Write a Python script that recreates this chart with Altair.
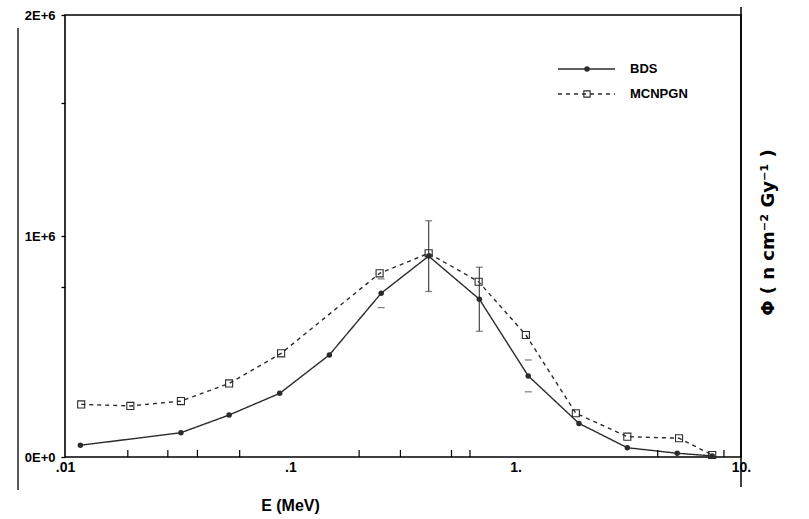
import altair as alt
import pandas as pd

# Neutron fluence spectra: BDS unfolding vs. MCNP-GN calculation
series_names = ["BDS", "MCNPGN"]

bds_energy = [0.0117, 0.0327, 0.0535, 0.0897, 0.149, 0.253, 0.411, 0.690, 1.137, 1.91, 3.13, 5.21, 7.45]
bds_phi = [53000, 110000, 190000, 288000, 462000, 741000, 909000, 714000, 367000, 152000, 42000, 17000, 5000]

mcnp_energy = [0.0118, 0.0195, 0.0327, 0.0535, 0.091, 0.249, 0.411, 0.685, 1.11, 1.85, 3.13, 5.31, 7.45]
mcnp_phi = [238000, 231000, 253000, 333000, 469000, 831000, 922000, 793000, 552000, 198000, 92000, 85000, 9000]

# BDS uncertainties (full bars drawn only where flagged, caps everywhere)
err_energy = [0.253, 0.411, 0.690, 1.137]
err_center = [741000, 909000, 714000, 367000]
err_size = [65000, 160000, 145000, 72000]
err_full_bar = [False, True, True, False]

x_major = [0.01, 0.1, 1, 10]
x_minor = [0.019, 0.0286, 0.0387, 0.0596, 0.202, 0.308, 0.519, 0.627, 4.27, 8.4]
y_ticks = [0, 770000, 1000000, 1600000, 2000000]

W, H = 676, 442
INK = "#2b2b2b"
LABEL_FONT = "Liberation Sans"

points = pd.concat(
    [
        pd.DataFrame({"E": bds_energy, "phi": bds_phi, "series": "BDS"}),
        pd.DataFrame({"E": mcnp_energy, "phi": mcnp_phi, "series": "MCNPGN"}),
    ],
    ignore_index=True,
)

errors = pd.DataFrame({
    "E": err_energy,
    "lo": [c - e for c, e in zip(err_center, err_size)],
    "hi": [c + e for c, e in zip(err_center, err_size)],
    "bar": err_full_bar,
})

minor = pd.DataFrame({"E": x_minor})

xs = alt.Scale(type="log", domain=[0.01, 10])
ys = alt.Scale(domain=[0, 2000000])

x_axis = alt.Axis(
    values=x_major,
    labelExpr="datum.value == 0.01 ? '.01' : datum.value == 0.1 ? '.1' : datum.value == 1 ? '1.' : '10.'",
    ticks=False, grid=False, domain=False,
    labelFont=LABEL_FONT, labelFontSize=14, labelFontWeight="bold", labelColor="black",
    labelPadding=3, labelFlush=False, labelOverlap=False, labelBound=False,
    title="E (MeV)", titleFont=LABEL_FONT, titleFontSize=16, titleFontWeight="bold",
    titleX=225, titleY=48, titleAlign="center", titleBaseline="middle", titleColor="black",
)

y_axis = alt.Axis(
    values=y_ticks,
    labelExpr="datum.value == 0 ? '0E+0' : datum.value == 1000000 ? '1E+6' : datum.value == 2000000 ? '2E+6' : ''",
    ticks=True, tickSize=4, tickColor="black", tickWidth=1.3, grid=False, domain=False,
    labelFont=LABEL_FONT, labelFontSize=13, labelFontWeight="bold", labelColor="black",
    labelPadding=6, labelOverlap=False,
    title="Φ ( n  cm⁻²  Gy⁻¹ )", titleFont="DejaVu Sans", titleFontSize=18,
    titleFontWeight="bold", titleColor="black",
    titleX=703, titleY=217, titleAngle=270, titleAlign="center", titleBaseline="middle",
)

X = alt.X("E:Q", scale=xs, axis=x_axis)
Y = alt.Y("phi:Q", scale=ys, axis=y_axis)

base = alt.Chart(points)

lines = base.mark_line(strokeWidth=1.4, color=INK).encode(
    x=X, y=Y,
    strokeDash=alt.StrokeDash(
        "series:N",
        scale=alt.Scale(domain=series_names, range=[[1, 0], [4, 4]]),
        legend=None,
    ),
)

bds_pts = base.transform_filter(alt.datum.series == "BDS").mark_point(
    shape="circle", filled=True, size=30, color=INK, opacity=1
).encode(x=X, y=Y)

mcnp_pts = base.transform_filter(alt.datum.series == "MCNPGN").mark_point(
    shape="square", filled=False, size=50, color=INK, strokeWidth=1.1, opacity=1
).encode(x=X, y=Y)

err_bars = alt.Chart(errors).transform_filter(alt.datum.bar).mark_rule(
    color="#555", strokeWidth=1.3
).encode(x=alt.X("E:Q", scale=xs), y=alt.Y("lo:Q", scale=ys), y2="hi:Q")

err_caps = alt.Chart(errors).transform_fold(["lo", "hi"], as_=["end", "v"]).mark_tick(
    orient="horizontal", color="#444", size=7, thickness=1.2
).encode(x=alt.X("E:Q", scale=xs), y=alt.Y("v:Q", scale=ys))

minor_ticks = alt.Chart(minor).mark_rule(color="black", strokeWidth=1.2).encode(
    x=alt.X("E:Q", scale=xs), y=alt.value(H), y2=alt.value(H - 7)
)

# Key in the upper right: sample line, marker and series name per row
legend_src = alt.Chart(pd.DataFrame({"series": series_names}))


def key_row(name, row_y, dash, shape, filled, size):
    src = legend_src.transform_filter(alt.datum.series == name)
    sample = src.mark_rule(color=INK, strokeWidth=1.4, strokeDash=dash).encode(
        x=alt.value(493), x2=alt.value(550), y=alt.value(row_y)
    )
    marker = src.mark_point(shape=shape, filled=filled, size=size, color=INK,
                            strokeWidth=1.1, opacity=1).encode(
        x=alt.value(522), y=alt.value(row_y)
    )
    label = src.mark_text(align="left", baseline="middle", font=LABEL_FONT,
                          fontSize=13, fontWeight="bold", color="black").encode(
        x=alt.value(565), y=alt.value(row_y), text="series:N"
    )
    return [sample, marker, label]


key_layers = (key_row("BDS", 54, [1, 0], "circle", True, 30)
              + key_row("MCNPGN", 79, [4, 4], "square", False, 40))

one = pd.DataFrame({"k": [0]})
left_edge = alt.Chart(one).mark_rule(color="black", strokeWidth=1.3).encode(
    x=alt.value(-47), y=alt.value(13), y2=alt.value(475)
)
right_edge = alt.Chart(one).mark_rule(color="black", strokeWidth=1.5).encode(
    x=alt.value(W), y=alt.value(-8), y2=alt.value(472)
)

chart = alt.layer(
    lines, err_bars, err_caps, bds_pts, mcnp_pts, minor_ticks, left_edge, right_edge, *key_layers
).properties(
    width=W, height=H,
    autosize=alt.AutoSizeParams(type="none"),
    padding={"left": 65, "top": 15, "right": 809 - 65 - W, "bottom": 519 - 15 - H},
    background="white",
).configure_view(
    stroke="black", strokeWidth=1.6
)

chart.save("out.html", embed_options={"renderer": "svg", "actions": False})
